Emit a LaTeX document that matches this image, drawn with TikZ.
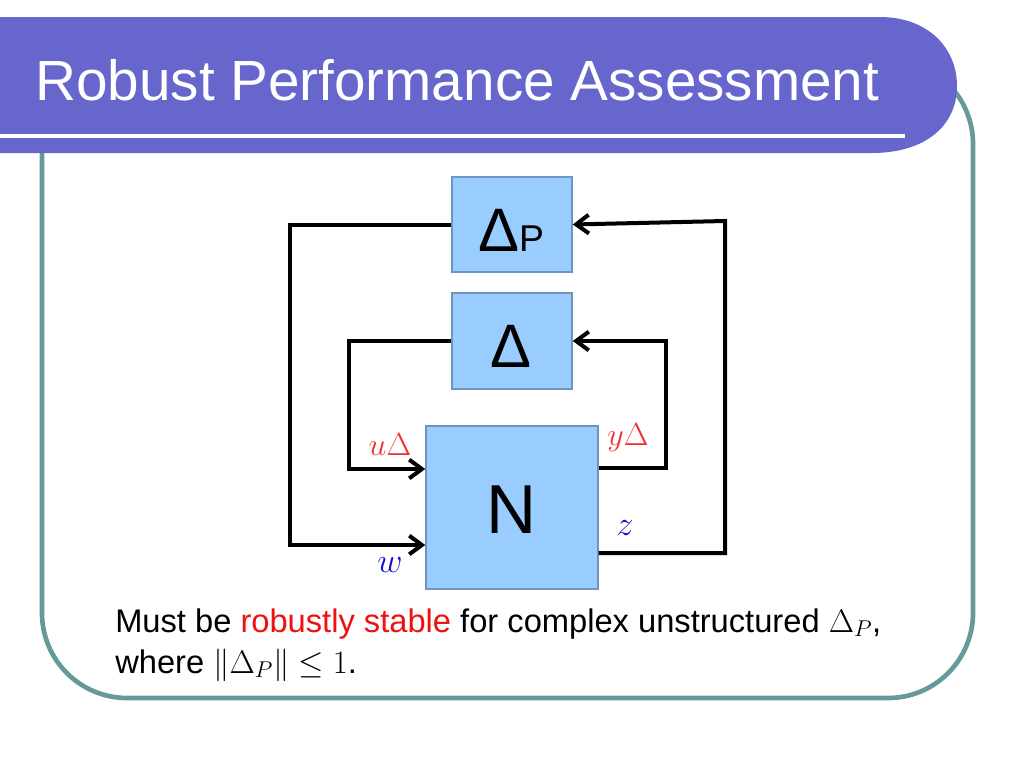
\documentclass[tikz,border=0pt]{standalone}
\usepackage{fix-cm}
\usepackage[no-math]{fontspec}
\setsansfont{Liberation Sans}
\usetikzlibrary{arrows.meta}
\definecolor{titlebar}{HTML}{6666CC}
\definecolor{frameteal}{HTML}{669999}
\definecolor{boxfill}{HTML}{99CCFF}
\definecolor{boxedge}{HTML}{6F94C4}
\definecolor{lblred}{HTML}{F03030}
\definecolor{lblblue}{HTML}{1010CC}
\definecolor{txtred}{HTML}{EE1111}
\tikzset{
  blk/.style={draw=boxedge, fill=boxfill, line width=1.1pt, inner sep=0pt},
  conn/.style={line width=3pt, draw=black, line join=miter},
  arr/.style={conn, -{Straight Barb[length=9.5pt,width=14pt]}},
  sig/.style={inner sep=0pt, font=\fontsize{24}{28}\selectfont},
}
\begin{document}
\begin{tikzpicture}[x=0.75pt,y=-0.75pt]
\useasboundingbox (0,0) rectangle (1024,768);
% frame
\draw[frameteal, line width=3.5pt, rounded corners=63.75pt] (42,59) rectangle (973,698);
% title bar
\fill[titlebar] (0,17) -- (880,17) .. controls (928,17) and (957,48) .. (957,86)
  .. controls (957,126) and (925,153) .. (872,153) -- (0,153) -- cycle;
\fill[white] (0,134) rectangle (905,138);
\node[anchor=base west, inner sep=0pt, text=white, font=\sffamily\fontsize{42.5}{50}\selectfont] (title) at (35,100) {Robust Performance Assessment};
% boxes
\node[blk, minimum width=90pt, minimum height=71.25pt] (dP) at (512,224.5) {};
\node[blk, minimum width=90pt, minimum height=72pt] (d) at (512,341) {};
\node[blk, minimum width=129pt, minimum height=122.25pt] (N) at (512,507.5) {};
\node[anchor=base, inner sep=0pt, font=\sffamily] (dPt) at (511,251) {{\fontsize{46}{50}\selectfont Δ}{\fontsize{28}{30}\selectfont P}};
\node[anchor=base, inner sep=0pt, font=\sffamily\fontsize{46}{50}\selectfont] (dt) at (511,367) {Δ};
\node[anchor=base, inner sep=0pt, font=\sffamily\fontsize{52}{56}\selectfont] (Nt) at (512,533) {N};
% corner coordinates
\coordinate (wl) at (290,545);
\coordinate (ul) at (349,469);
\coordinate (yr) at (666,468);
\coordinate (zr) at (725,553);
\coordinate (zt) at (725,221);
% connectors
\draw[arr] (dP.west) -| (wl) -- (N.west |- wl);
\draw[arr] (d.west) -| (ul) -- (N.west |- ul);
\draw[arr] (N.east |- yr) -- (yr) |- (d.east);
\draw[arr] (N.east |- zr) -- (zr) -- (zt) -- (dP.east);
% signal labels
\node[sig, text=lblred] (uD) at (390,445) {$u\Delta$};
\node[sig, text=lblred] (yD) at (628,438) {$y\Delta$};
\node[sig, text=lblblue, font=\fontsize{26}{30}\selectfont] (zl) at (625,528) {$z$};
\node[sig, text=lblblue, font=\fontsize{26}{30}\selectfont] (wlab) at (390,565) {$w$};
% bottom text
\node[anchor=base west, inner sep=0pt, font=\sffamily\fontsize{24.5}{30}\selectfont] (l1) at (115,632) {Must be \textcolor{txtred}{robustly stable} for complex unstructured $\Delta_P$,};
\node[anchor=base west, inner sep=0pt, font=\sffamily\fontsize{24.5}{30}\selectfont] (l2) at (115,673) {where $\|\Delta_P\|\leq 1$.};
\end{tikzpicture}
\end{document}
